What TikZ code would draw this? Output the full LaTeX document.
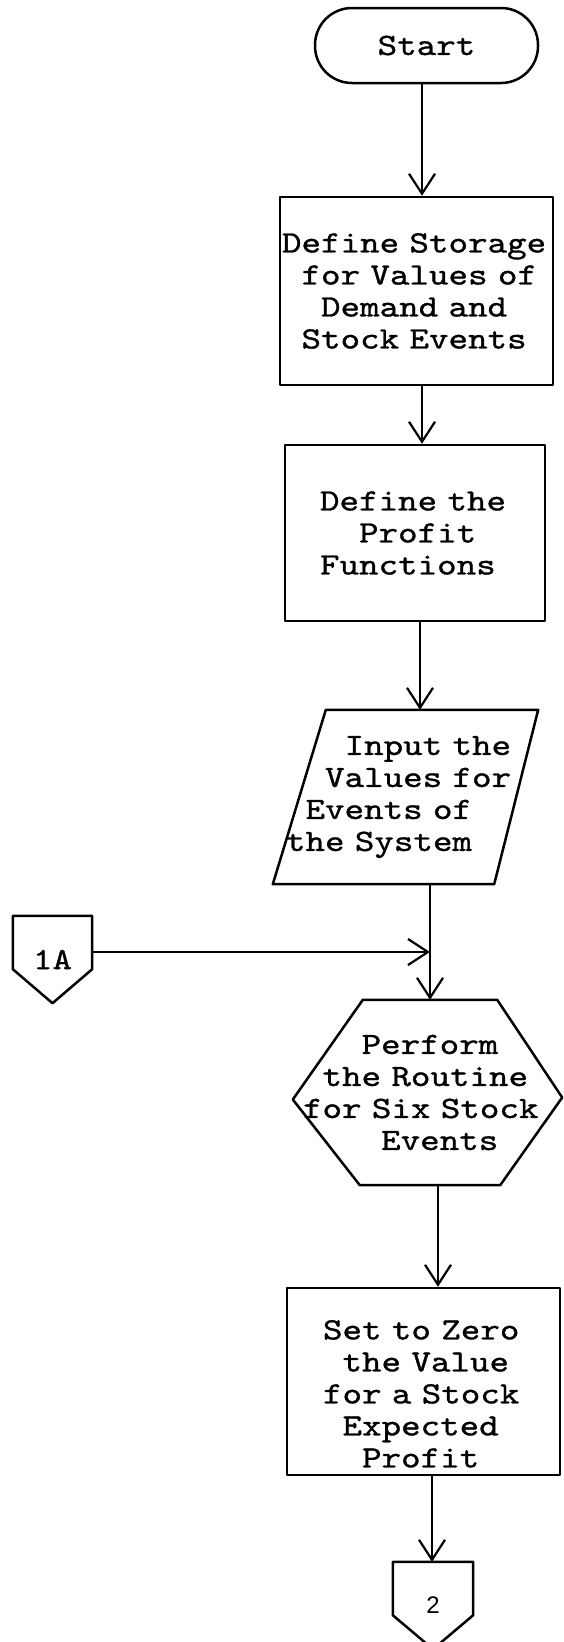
\documentclass[tikz,border=0pt]{standalone}
\usepackage{fontspec}
\usetikzlibrary{arrows.meta}
% typewriter face, widened to a pica grid
\newfontfamily\tw{lmmono10-regular}[Extension=.otf, FakeStretch=1.2, FakeBold=1]
\newfontfamily\digitsans{Liberation Sans}
\newcommand\lpad[1]{\hphantom{#1}}

\begin{document}
\begin{tikzpicture}[x=1pt, y=-1pt,
  outline/.style={draw=black, line width=2.5pt, line join=round},
  txt/.style={font={\tw\fontsize{31pt}{32pt}\selectfont}},
  procbox/.style={rectangle, outline, txt, inner sep=0pt, align=left},
  hidden/.style={rectangle, txt, inner sep=0pt, align=left},
  flow/.style={draw=black, line width=2.2pt, -{Straight Barb[length=20pt, width=26pt]}},
]
\fill[white] (0,0) rectangle (564,1642);
\useasboundingbox (0,0) rectangle (564,1642);

% terminal and process boxes
\node[procbox, rounded corners=37pt, minimum width=223pt, minimum height=75pt, align=center]
  (start) at (426.5,45.5) {Start};
\node[procbox, minimum width=273pt, minimum height=188pt, text width=269pt]
  (store) at (416.5,291)
  {Define~Storage\\\lpad{x}for~Values~of\\\lpad{xx}Demand~and\\\lpad{x}Stock~Events};
\node[procbox, minimum width=260pt, minimum height=176pt, text width=190pt]
  (profit) at (415,533)
  {Define~the\\\lpad{xx}Profit\\Functions};

% input (parallelogram outline drawn below)
\node[hidden, minimum width=265pt, minimum height=174pt, text width=239pt]
  (input) at (405.5,797)
  {\lpad{xxx}Input~the\\\lpad{xx}Values~for\\\lpad{x}Events~of\\the~System};

% preparation (hexagon outline drawn below)
\node[hidden, minimum width=269pt, minimum height=185pt, text width=249pt]
  (perform) at (427.5,1092.5)
  {\lpad{xxx}Perform\\\lpad{x}the~Routine\\for~Six~Stock\\\lpad{xxxx}Events};

% text sits low in this box: a tall strut on the first line pushes it down
\node[procbox, minimum width=273pt, minimum height=187pt, text width=201pt]
  (zero) at (423.5,1381.5)
  {\rule{0pt}{44pt}Set~to~Zero\\\lpad{x}the~Value\\for~a~Stock\\\lpad{x}Expected\\\lpad{xx}Profit};

% off-page connectors
\node[hidden, minimum width=79pt, minimum height=87pt] (con1a) at (52.5,959.5) {1A};
\node[hidden, minimum width=80pt, minimum height=87pt,
  font={\digitsans\fontsize{24pt}{24pt}\selectfont}] (con2) at (433,1605.5) {2};

% outlines of the non-rectangular symbols
\draw[outline] (input.south west) -- ([xshift=53pt]input.north west)
  -- (input.north east) -- ([xshift=-44pt]input.south east) -- cycle;
\draw[outline] ([xshift=70pt]perform.north west) -- ([xshift=-65pt]perform.north east)
  -- ([yshift=-5pt]perform.east) -- ([xshift=-62pt]perform.south east)
  -- ([xshift=67pt]perform.south west) -- ([yshift=-7pt]perform.west) -- cycle;
\draw[outline] (con1a.north west) -- (con1a.north east) -- ([yshift=34pt]con1a.south east)
  -- (con1a.south) -- ([yshift=34pt]con1a.south west) -- cycle;
\draw[outline] (con2.north west) -- (con2.north east) -- ([yshift=34pt]con2.south east)
  -- (con2.south) -- ([yshift=34pt]con2.south west) -- cycle;

% flow lines
\coordinate (merge) at (430,952);
\draw[flow] ([xshift=-4.5pt]start.south) -- ([xshift=-4.5pt]start.south |- store.north);
\draw[flow] ([xshift=5.5pt]store.south) -- ([xshift=5.5pt]store.south |- profit.north);
\draw[flow] ([xshift=5pt]profit.south) -- ([xshift=5pt]profit.south |- input.north);
\draw[flow] ([xshift=24.5pt]input.south) -- ([xshift=24.5pt]input.south |- perform.north);
\draw[flow] (merge -| con1a.east) -- (merge);
\draw[flow] ([xshift=10.5pt]perform.south) -- ([xshift=10.5pt]perform.south |- zero.north);
\draw[flow] ([xshift=8.5pt]zero.south) -- ([xshift=8.5pt]zero.south |- con2.north);
\end{tikzpicture}
\end{document}
